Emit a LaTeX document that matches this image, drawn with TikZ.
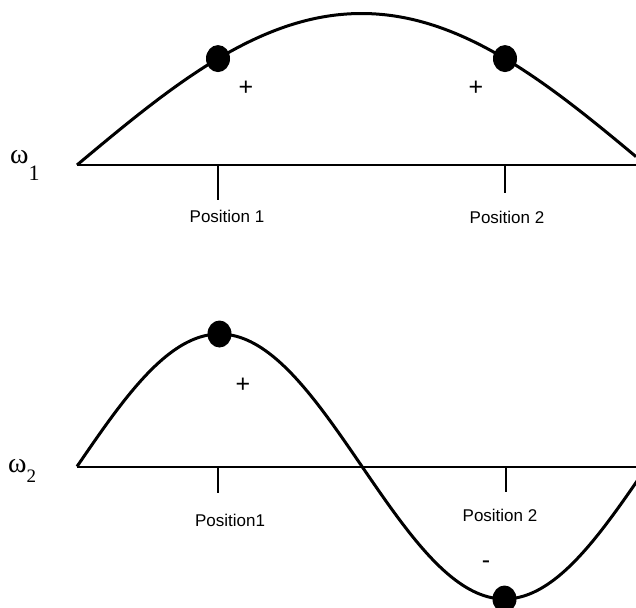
\documentclass[tikz,border=0pt]{standalone}
\usepackage{fontspec}
\setmainfont{Liberation Sans}
\newfontfamily\wfont{Liberation Serif}
\usetikzlibrary{positioning,shapes.geometric}
\tikzset{
  wv-curve/.style={line width=3pt, draw=black, line join=round},
  wv-axis/.style={line width=2pt, draw=black},
  wv-tick/.style={line width=1.5pt, draw=black},
  wv-dot/.style={ellipse, fill=black, inner sep=0pt,
    minimum width=24pt, minimum height=27pt},
  wv-label/.style={font=\fontsize{17}{19}\selectfont, inner sep=0pt},
  wv-sign/.style={font=\fontsize{25}{25}\selectfont, inner sep=0pt},
  wv-omega/.style={font=\wfont\fontsize{28}{30}\selectfont,
    inner sep=0pt, anchor=base west}
}
\begin{document}
\begin{tikzpicture}[x=1pt, y=-1pt]
\useasboundingbox (0,0) rectangle (636,607);

% Mode omega_1
\coordinate (a1L) at (77,165);
\coordinate (a1R) at (636,165);
\draw[wv-axis] (a1L) -- (a1R);
\draw[wv-curve] plot[domain=77:636, samples=120, smooth]
  (\x, {165-151.5*sin((\x-77)/569*180)});
\node[wv-omega] (w1) at (10,163) {ω\raisebox{-17pt}{\fontsize{22}{24}\selectfont 1}};

\node[wv-dot] (d11) at (218,58.6) {};
\node[wv-dot] (d12) at (505,58.6) {};
\node[wv-sign] (s11) at (246,88) {+};
\node[wv-sign] (s12) at (476,88) {+};

\coordinate (t11) at (218,165);
\coordinate (t11e) at (218,200);
\coordinate (t12) at (505,165);
\coordinate (t12e) at (505,193);
\draw[wv-tick] (t11) -- (t11e);
\draw[wv-tick] (t12) -- (t12e);
\node[wv-label] (p11) at (227,216) {Position 1};
\node[wv-label] (p12) at (507,217) {Position 2};

% Mode omega_2
\coordinate (a2L) at (77,466.5);
\coordinate (a2R) at (636,466.5);
\draw[wv-axis] (a2L) -- (a2R);
\draw[wv-curve] plot[domain=77:640, samples=160, smooth]
  (\x, {466.5-132.5*sin((\x-77)/570*360)});
\node[wv-omega] (w2) at (8,472) {ω\raisebox{-10pt}{\fontsize{19}{21}\selectfont 2}};

\node[wv-dot] (d21) at (219.5,334) {};
\node[wv-dot] (d22) at (504.5,599) {};
\node[wv-sign] (s21) at (243,385) {+};
\node[wv-sign] (s22) at (486,565) {-};

\coordinate (t21) at (218,466.5);
\coordinate (t21e) at (218,493);
\coordinate (t22) at (506,466.5);
\coordinate (t22e) at (506,492);
\draw[wv-tick] (t21) -- (t21e);
\draw[wv-tick] (t22) -- (t22e);
\node[wv-label] (p21) at (230,520) {Position1};
\node[wv-label] (p22) at (500,515) {Position 2};
\end{tikzpicture}
\end{document}
